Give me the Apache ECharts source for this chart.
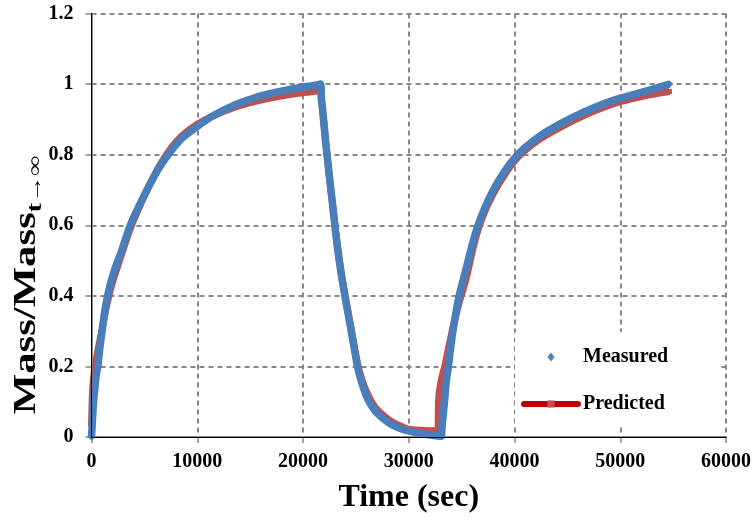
<!DOCTYPE html>
<html>
<head>
<meta charset="utf-8">
<script src="https://cdn.jsdelivr.net/npm/echarts@6/dist/echarts.min.js"></script>
<style>html,body{margin:0;padding:0;background:#fff}#c{width:754px;height:521px}</style>
</head>
<body>
<div id="c"></div>
<script>
const xTicks = [0, 10000, 20000, 30000, 40000, 50000, 60000];
const yTicks = [0, 0.2, 0.4, 0.6, 0.8, 1, 1.2];
const seriesNames = ['Measured', 'Predicted'];

const measured = [
  [0,0],[60,0.03],[110,0.06],[160,0.085],[220,0.11],[290,0.13],[370,0.155],[470,0.18],[600,0.20],
  [800,0.255],[1000,0.30],[1200,0.345],[1450,0.39],[1800,0.435],[2200,0.475],[2850,0.528],[3600,0.595],
  [4500,0.655],[5500,0.715],[6500,0.768],[7500,0.81],[8500,0.845],[10000,0.88],[11500,0.91],
  [13500,0.94],[15500,0.962],[17500,0.977],[19500,0.989],[21000,0.996],[21660,1.0],
  [21750,0.955],[21850,0.93],[21970,0.89],[22160,0.83],[22380,0.77],[22600,0.71],[22850,0.645],
  [23100,0.575],[23400,0.505],[23700,0.445],[24000,0.393],[24500,0.31],[25150,0.20],[25600,0.15],
  [26160,0.105],[26800,0.075],[27570,0.053],[28300,0.037],[29150,0.025],[30000,0.017],
  [31000,0.010],[32000,0.006],[33050,0.002],
  [33150,0.03],[33240,0.058],[33330,0.085],[33420,0.114],[33560,0.16],[33750,0.20],[33950,0.25],
  [34150,0.295],[34450,0.35],[34750,0.398],[35100,0.44],[35450,0.48],[36000,0.545],[36500,0.595],
  [37200,0.65],[38000,0.70],[39000,0.75],[40000,0.79],[41000,0.82],[42500,0.855],[44500,0.89],
  [46500,0.92],[48500,0.945],[50000,0.96],[51500,0.972],[53000,0.985],[54650,1.0]
];

const predicted = [
  [0,0.03],[30,0.07],[60,0.10],[100,0.13],[200,0.17],[400,0.21],[600,0.245],[1000,0.305],
  [1450,0.375],[2000,0.44],[2850,0.518],[3600,0.585],[4500,0.65],[5500,0.715],[6500,0.772],
  [7500,0.818],[8500,0.852],[10000,0.886],[11500,0.91],[13500,0.934],[15500,0.951],[17500,0.964],
  [19500,0.974],[21000,0.979],[21650,0.982],
  [21700,0.97],[21800,0.94],[21950,0.90],[22150,0.835],[22380,0.77],[22600,0.71],[22850,0.645],
  [23100,0.58],[23400,0.51],[23700,0.45],[24000,0.398],[24500,0.315],[25150,0.21],[25600,0.16],
  [26160,0.118],[26800,0.085],[27570,0.062],[28300,0.045],[29150,0.032],[30000,0.022],
  [31000,0.019],[32000,0.018],[32770,0.018],
  [32790,0.06],[32810,0.10],[32900,0.13],[33100,0.165],[33400,0.20],[33750,0.25],[34100,0.30],
  [34500,0.35],[34900,0.395],[35400,0.445],[36000,0.525],[36500,0.582],[37200,0.64],[38000,0.69],
  [39000,0.74],[40000,0.782],[41000,0.812],[42500,0.846],[44500,0.88],[46500,0.91],[48500,0.935],
  [50000,0.95],[51500,0.961],[53000,0.971],[54650,0.979]
];

const FONT = '"Liberation Serif", "Times New Roman", serif';
const DIAMOND_ICON = 'path://M0,4.5L0.01,4.5L0,4.51Z M23.5,4.5L27,0L30.5,4.5L27,9Z M54,4.5L53.99,4.5L54,4.51Z';
const chart = echarts.init(document.getElementById('c'), null, {renderer: 'canvas'});
const frameAxis = {
  axisLine: {show: true, lineStyle: {color: '#000', width: 1}},
  axisTick: {show: false}, axisLabel: {show: false}, splitLine: {show: false}, z: 5
};
chart.setOption({
  animation: false,
  backgroundColor: '#fff',
  grid: {left: 91.5, top: 13.5, right: 27.5, bottom: 84},
  xAxis: [{
    type: 'value', min: xTicks[0], max: xTicks[xTicks.length - 1], interval: xTicks[1] - xTicks[0],
    name: 'Time (sec)', nameLocation: 'middle', nameGap: 45,
    nameTextStyle: {fontFamily: FONT, fontWeight: 'bold', fontSize: 32, color: '#000'},
    axisLine: {show: true, lineStyle: {color: '#868686', width: 2}},
    axisTick: {show: true, length: 6, lineStyle: {color: '#868686', width: 1.5}},
    axisLabel: {margin: 15, fontFamily: FONT, fontWeight: 'bold', fontSize: 20, color: '#000',
      formatter: v => String(v)},
    splitLine: {show: true, lineStyle: {color: '#878787', width: 2, type: [5, 4]}}
  }, Object.assign({type: 'value', position: 'top', min: xTicks[0], max: xTicks[xTicks.length - 1]}, frameAxis)],
  yAxis: [{
    type: 'value', min: yTicks[0], max: yTicks[yTicks.length - 1], interval: 0.2,
    axisLine: {show: true, lineStyle: {color: '#868686', width: 2}},
    axisTick: {show: true, length: 6, lineStyle: {color: '#868686', width: 1.5}},
    axisLabel: {margin: 18, fontFamily: FONT, fontWeight: 'bold', fontSize: 20, color: '#000'},
    splitLine: {show: true, lineStyle: {color: '#878787', width: 2, type: [5, 4]}}
  }, Object.assign({type: 'value', position: 'right', min: yTicks[0], max: yTicks[yTicks.length - 1]}, frameAxis)],
  legend: {
    left: 515, top: 332, orient: 'vertical',
    padding: [15, 50, 13, 6], itemGap: 27, itemWidth: 54, itemHeight: 9,
    backgroundColor: '#fff',
    textStyle: {fontFamily: FONT, fontWeight: 'bold', fontSize: 20, color: '#000', lineHeight: 20},
    data: [
      {name: seriesNames[0], icon: DIAMOND_ICON, itemStyle: {color: '#4F81BD'}},
      {name: seriesNames[1], lineStyle: {color: '#C00000', width: 6, cap: 'round'}, itemStyle: {color: '#C0504D'}}
    ]
  },
  graphic: [{
    type: 'text', x: 27, y: 285, rotation: Math.PI / 2, scaleX: 1.38, z: 10,
    style: {
      text: '{a|Mass/Mass}{b|t→∞}', align: 'center', verticalAlign: 'middle',
      rich: {
        a: {fontFamily: FONT, fontWeight: 'bold', fontSize: 31, fill: '#000'},
        b: {fontFamily: FONT, fontWeight: 'bold', fontSize: 20, fill: '#000', padding: [17, 0, 0, 0]}
      }
    }
  }],
  series: [
    {
      name: seriesNames[1], type: 'line', data: predicted, z: 2,
      smooth: 0.2,
      symbol: 'rect', symbolSize: 5, showAllSymbol: true,
      lineStyle: {color: '#C0504D', width: 7},
      itemStyle: {color: '#C0504D'}
    },
    {
      name: seriesNames[0], type: 'line', data: measured, z: 3,
      smooth: 0.2,
      symbol: 'diamond', symbolSize: 7.5, showAllSymbol: true,
      lineStyle: {color: '#4A7EBB', width: 7.5},
      itemStyle: {color: '#4A7EBB'}
    }
  ]
});
</script>
</body>
</html>
